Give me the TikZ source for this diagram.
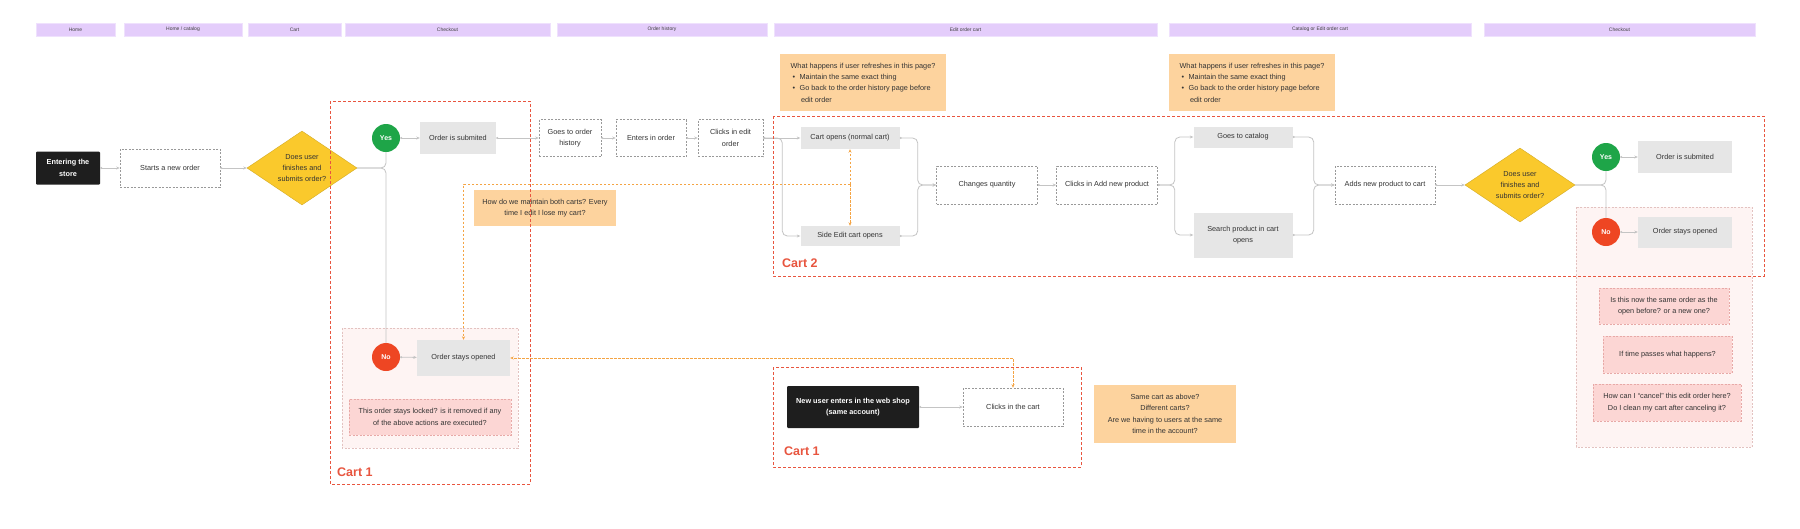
\documentclass[tikz,border=0pt]{standalone}
\usepackage{fontspec}
\setmainfont{Liberation Sans}
\usetikzlibrary{shapes.geometric,arrows.meta,calc}
\definecolor{hdr}{HTML}{E4CDFB}
\definecolor{txt}{HTML}{333333}
\definecolor{grayfill}{HTML}{E6E6E6}
\definecolor{blackfill}{HTML}{1E1E1E}
\definecolor{yel}{HTML}{FAC92C}
\definecolor{ygreen}{HTML}{1EA548}
\definecolor{nored}{HTML}{EE4623}
\definecolor{orng}{HTML}{FDD39E}
\definecolor{pinkq}{HTML}{FCD6D4}
\definecolor{pinkqb}{HTML}{E7A9A7}
\definecolor{pinkbg}{HTML}{FEF4F3}
\definecolor{pinkbd}{HTML}{E3C2C0}
\definecolor{redd}{HTML}{E8553F}
\definecolor{conncol}{HTML}{C4C4C4}
\definecolor{orl}{HTML}{F4A444}
\begin{document}
\begin{tikzpicture}[x=1pt,y=-1pt,
  every node/.style={font=\fontsize{7.3}{11.3}\selectfont, text=txt, inner sep=0pt},
  hbar/.style={fill=hdr, draw=hdr!60!white, line width=0.3pt, font=\fontsize{5}{6}\selectfont, text=black!75},
  dbox/.style={draw=black!40, dash pattern=on 2pt off 1.5pt, fill=white, line width=0.6pt, align=center},
  gbox/.style={fill=grayfill, align=center},
  bbox/.style={fill=blackfill, text=white, font=\bfseries\fontsize{7.3}{11.3}\selectfont, align=center, rounded corners=1pt},
  dia/.style={diamond, aspect=1.48, fill=yel, draw=yel!85!black, line width=0.4pt, align=center, minimum width=110pt, minimum height=74pt},
  yesc/.style={circle, fill=ygreen, minimum size=28pt, text=white, font=\bfseries\fontsize{7}{8}\selectfont},
  noc/.style={circle, fill=nored, minimum size=28pt, text=white, font=\bfseries\fontsize{7}{8}\selectfont},
  note/.style={fill=orng, align=center},
  pq/.style={fill=pinkq, draw=pinkqb, dash pattern=on 2pt off 1.5pt, line width=0.5pt, align=center},
  region/.style={fill=pinkbg, draw=pinkbd, dash pattern=on 2pt off 1.5pt, line width=0.6pt},
  cartbox/.style={draw=redd, dash pattern=on 3pt off 2pt, line width=0.9pt},
  cartlbl/.style={text=redd, font=\bfseries\fontsize{12.5}{14}\selectfont, anchor=base west},
  conn/.style={draw=conncol, line width=0.8pt, {Circle[length=2pt]}-{Stealth[length=3.5pt,width=3pt]}},
  plainline/.style={draw=conncol, line width=0.8pt},
  oconn/.style={draw=orl, line width=0.7pt, dash pattern=on 2.5pt off 1.5pt, -{Stealth[length=3.5pt,width=3pt]}},
  oconnb/.style={draw=orl, line width=0.7pt, dash pattern=on 2.5pt off 1.5pt, {Stealth[length=3.5pt,width=3pt]}-{Stealth[length=3.5pt,width=3pt]}}
]
\useasboundingbox[fill=white] (0,0) rectangle (1800,528);

% header bars
\node[hbar, minimum width=79pt, minimum height=13pt] (h1) at (75.5,29.5) {Home};
\node[hbar, minimum width=118pt, minimum height=13pt] (h2) at (183,29.5) {Home / catalog};
\node[hbar, minimum width=93pt, minimum height=13pt] (h3) at (294.5,29.5) {Cart};
\node[hbar, minimum width=205pt, minimum height=13pt] (h4) at (447.5,29.5) {Checkout};
\node[hbar, minimum width=210pt, minimum height=13pt] (h5) at (662,29.5) {Order history};
\node[hbar, minimum width=383pt, minimum height=13pt] (h6) at (965.5,29.5) {Edit order cart};
\node[hbar, minimum width=302pt, minimum height=13pt] (h7) at (1320,29.5) {Catalog or Edit order cart};
\node[hbar, minimum width=271pt, minimum height=13pt] (h8) at (1619.5,29.5) {Checkout};

% background regions
\draw[region] (342,328) rectangle (518,448);
\draw[region] (1576,207) rectangle (1752,447);

% main nodes
\node[bbox, minimum width=64pt, minimum height=33pt] (enter) at (68,168) {Entering the\\store};
\node[dbox, minimum width=100pt, minimum height=38pt] (start) at (170,168) {Starts a new order};
\node[dia] (d1) at (302,168) {Does user\\finishes and\\submits order?};
\node[yesc] (yes1) at (386,138) {Yes};
\node[gbox, minimum width=76pt, minimum height=32pt] (sub1) at (458,138) {Order is submited};
\node[dbox, minimum width=62pt, minimum height=37pt] (hist) at (570,138) {Goes to order\\history};
\node[dbox, minimum width=70pt, minimum height=37pt] (enters) at (651,138) {Enters in order};
\node[dbox, minimum width=65pt, minimum height=37pt] (edit) at (730.5,138) {Clicks in edit\\order};
\node[gbox, minimum width=99pt, minimum height=22pt] (cartopen) at (850,138) {Cart opens (normal cart)};
\node[gbox, minimum width=99pt, minimum height=20pt] (side) at (850,236) {Side Edit cart opens};
\node[dbox, minimum width=101pt, minimum height=38pt] (chq) at (987,185) {Changes quantity};
\node[dbox, minimum width=101pt, minimum height=38pt] (addnew) at (1107,185) {Clicks in Add new product};
\node[gbox, minimum width=99pt, minimum height=21pt] (cat) at (1243,137) {Goes to catalog};
\node[gbox, minimum width=99pt, minimum height=45pt] (search) at (1243,235) {Search product in cart\\opens};
\node[dbox, minimum width=100pt, minimum height=38pt] (adds) at (1385,185) {Adds new product to cart};
\node[dia] (d2) at (1520,185) {Does user\\finishes and\\submits order?};
\node[yesc] (yes2) at (1606,157) {Yes};
\node[gbox, minimum width=94pt, minimum height=32pt] (sub2) at (1685,157) {Order is submited};
\node[noc] (no2) at (1606,232) {No};
\node[gbox, minimum width=94pt, minimum height=31pt] (open2) at (1685,232) {Order stays opened};
\node[noc] (no1) at (386,357) {No};
\node[gbox, minimum width=93pt, minimum height=36pt] (open1) at (463.5,358) {Order stays opened};
\node[pq, minimum width=162pt, minimum height=36pt] (q1) at (430,417) {This order stays locked? is it removed if any\\of the above actions are executed?};
\node[bbox, minimum width=132pt, minimum height=42pt] (newuser) at (853,407) {New user enters in the web shop\\(same account)};
\node[dbox, minimum width=100pt, minimum height=38pt] (clickcart) at (1013,407) {Clicks in the cart};

% notes
\node[note, minimum width=166pt, minimum height=57pt, align=left] (note1) at (863,82.5) {What happens if user refreshes in this page?\\\hspace*{2pt}\textbullet\hspace{4.5pt}Maintain the same exact thing\\\hspace*{2pt}\textbullet\hspace{4.5pt}Go back to the order history page before\\\hspace*{10.5pt}edit order};
\node[note, minimum width=166pt, minimum height=57pt, align=left] (note2) at (1252,82.5) {What happens if user refreshes in this page?\\\hspace*{2pt}\textbullet\hspace{4.5pt}Maintain the same exact thing\\\hspace*{2pt}\textbullet\hspace{4.5pt}Go back to the order history page before\\\hspace*{10.5pt}edit order};
\node[note, minimum width=142pt, minimum height=36pt] (note3) at (545,208) {How do we maintain both carts? Every\\time I edit I lose my cart?};
\node[note, minimum width=142pt, minimum height=58pt] (note4) at (1165,414) {Same cart as above?\\Different carts?\\Are we having to users at the same\\time in the account?};
\node[pq, minimum width=130pt, minimum height=36pt] (rq1) at (1664,306) {Is this now the same order as the\\open before? or a new one?};
\node[pq, minimum width=129pt, minimum height=37pt] (rq2) at (1667.5,354.5) {If time passes what happens?};
\node[pq, minimum width=148pt, minimum height=37pt] (rq3) at (1667,402.5) {How can I “cancel” this edit order here?\\Do I clean my cart after canceling it?};

% connectors
\draw[conn] (enter) -- (start);
\draw[conn] (start) -- (d1);
\draw[plainline, rounded corners=5pt] (d1.east) -| (yes1.south);
\draw[plainline, rounded corners=5pt] (d1.east) -| (no1.north);
\draw[conn] (yes1) -- (sub1);
\draw[conn] (sub1) -- (hist);
\draw[conn] (hist) -- (enters);
\draw[conn] (enters) -- (edit);
\draw[conn] (edit) -- (cartopen);
\draw[conn, rounded corners=5pt] (edit.east) -- ++(19,0) |- (side.west);
\draw[conn, rounded corners=5pt] (cartopen.east) -- ++(18,0) |- (chq.west);
\draw[conn, rounded corners=5pt] (side.east) -- ++(18,0) |- (chq.west);
\draw[conn] (chq) -- (addnew);
\draw[conn, rounded corners=5pt] (addnew.east) -- ++(17,0) |- (cat.west);
\draw[conn, rounded corners=5pt] (addnew.east) -- ++(17,0) |- (search.west);
\draw[conn, rounded corners=5pt] (cat.east) -- ++(21,0) |- (adds.west);
\draw[conn, rounded corners=5pt] (search.east) -- ++(21,0) |- (adds.west);
\draw[conn] (adds) -- (d2);
\draw[plainline, rounded corners=5pt] (d2.east) -| (yes2.south);
\draw[plainline, rounded corners=5pt] (d2.east) -| (no2.north);
\draw[conn] (yes2) -- (sub2);
\draw[conn] (no2) -- (open2);
\draw[conn] (no1) -- (open1);
\draw[conn] (newuser) -- (clickcart);

% orange connectors
\coordinate (oj) at (850,184);
\draw[oconn] (oj) -- (cartopen.south);
\draw[oconn] (oj) -- (side.north);
\draw[oconn] (oj) -| (open1.north);
\draw[oconnb] (clickcart.north) |- (open1.east);

% cart boxes
\draw[cartbox] (330,101) rectangle (530,484);
\node[cartlbl] (c1lbl) at (337,476) {Cart 1};
\draw[cartbox] (773,116) rectangle (1764,276);
\node[cartlbl] (c2lbl) at (782,267) {Cart 2};
\draw[cartbox] (773,367) rectangle (1081,467);
\node[cartlbl] (c3lbl) at (784,455) {Cart 1};
\end{tikzpicture}
\end{document}
